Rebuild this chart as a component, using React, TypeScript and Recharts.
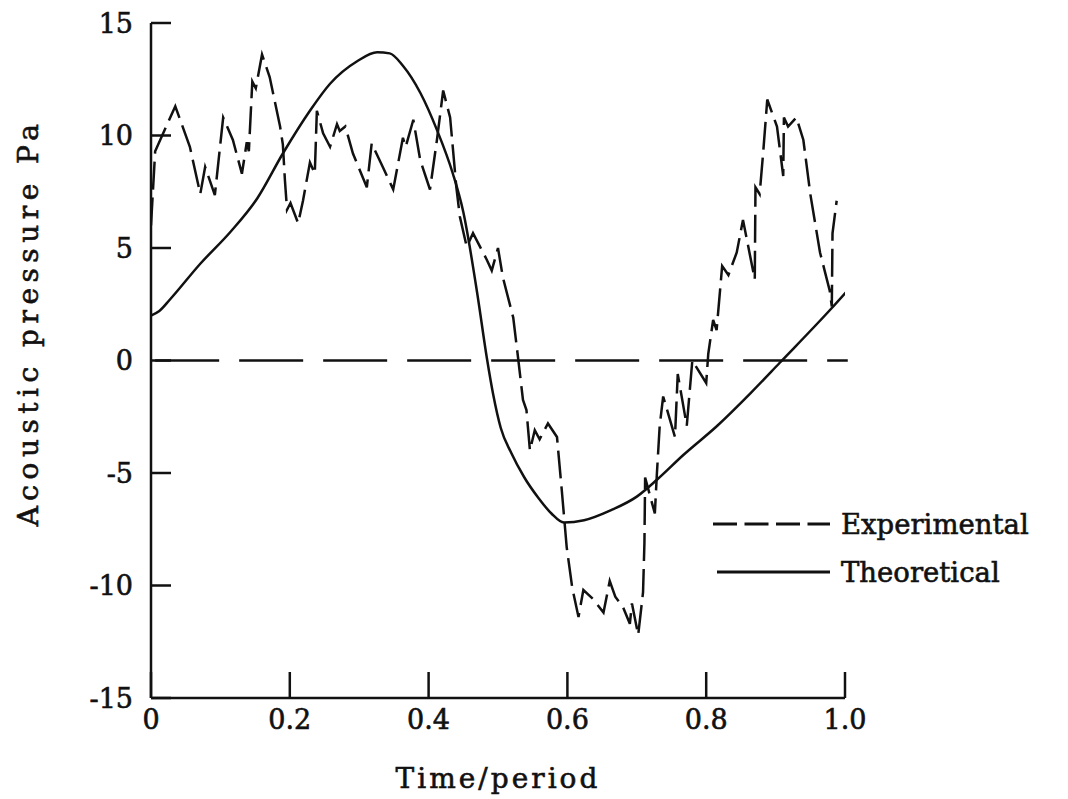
import React from 'react';
import { LineChart, Line, XAxis, YAxis, ReferenceLine, Legend } from 'recharts';

const FONT = '"DejaVu Serif", "Liberation Serif", serif';
const INK = '#111';

const xTicks = [0, 0.2, 0.4, 0.6, 0.8, 1.0];
const yTicks = [-15, -10, -5, 0, 5, 10, 15];

// theoretical curve (solid)
const theoTime = [
  0, 0.012, 0.027, 0.071, 0.114, 0.153, 0.19, 0.229, 0.258, 0.297, 0.326, 0.344, 0.363, 0.388,
  0.412, 0.435, 0.45, 0.47, 0.484, 0.493, 0.504, 0.519, 0.538, 0.558, 0.577, 0.595, 0.624,
  0.663, 0.7, 0.729, 0.767, 0.816, 0.864, 0.906, 0.98, 1.012,
];
const theoPressure = [
  2.0, 2.2, 2.7, 4.3, 5.7, 7.2, 9.2, 11.1, 12.3, 13.3, 13.7, 13.65, 13.1, 11.9,
  10.25, 8.3, 6.6, 3.0, 0.1, -1.5, -3.0, -4.1, -5.2, -6.1, -6.8, -7.2, -7.1,
  -6.65, -6.05, -5.3, -4.2, -2.9, -1.45, -0.1, 2.3, 3.4,
];

// experimental curve (dashed)
const expTime = [
  0, 0.006, 0.035, 0.056, 0.071, 0.078, 0.092, 0.104, 0.118, 0.131, 0.138, 0.141, 0.146, 0.151,
  0.16, 0.171, 0.186, 0.19, 0.193, 0.196, 0.201, 0.212, 0.219, 0.229, 0.236, 0.239, 0.248, 0.258,
  0.268, 0.272, 0.28, 0.291, 0.311, 0.318, 0.334, 0.349, 0.363, 0.367, 0.378, 0.388, 0.402, 0.412,
  0.421, 0.431, 0.44, 0.445, 0.455, 0.464, 0.484, 0.491, 0.5, 0.507, 0.522, 0.529, 0.536, 0.541,
  0.546, 0.553, 0.56, 0.572, 0.585, 0.592, 0.599, 0.607, 0.616, 0.623, 0.637, 0.652, 0.661, 0.669,
  0.68, 0.69, 0.693, 0.702, 0.709, 0.711, 0.712, 0.726, 0.729, 0.733, 0.738, 0.755, 0.759, 0.772,
  0.78, 0.8, 0.803, 0.81, 0.815, 0.823, 0.832, 0.844, 0.853, 0.87, 0.871, 0.877, 0.882, 0.888,
  0.902, 0.911, 0.912, 0.918, 0.93, 0.94, 0.95, 0.964, 0.978, 0.981, 0.982, 0.988,
];
const expPressure = [
  6.0, 9.3, 11.3, 9.5, 7.4, 8.6, 7.35, 10.8, 9.8, 8.3, 9.7, 9.3, 12.4, 12.1,
  13.6, 12.6, 10.4, 9.6, 8.0, 6.7, 7.0, 6.1, 7.1, 8.8, 8.3, 11.1, 10.1, 9.5,
  10.5, 10.2, 10.4, 9.2, 7.7, 9.65, 8.6, 7.6, 9.9, 9.5, 10.7, 8.9, 7.6, 9.8,
  12.0, 10.8, 7.7, 6.4, 5.05, 5.66, 4.47, 4.0, 5.0, 3.7, 1.9, 0.1, -1.75, -2.2,
  -4.0, -3.1, -3.5, -2.8, -3.4, -5.8, -8.3, -10.1, -11.4, -10.2, -10.6, -11.2, -9.8, -10.5,
  -10.95, -11.7, -10.8, -12.2, -10.3, -8.1, -5.2, -6.8, -5.0, -2.9, -1.6, -3.4, -0.6, -2.9,
  0.0, -1.0, 0.3, 1.8, 1.35, 4.2, 3.8, 4.8, 6.25, 3.6, 7.7, 7.4, 9.2, 11.6,
  10.4, 8.2, 10.8, 10.4, 10.8, 9.8, 7.4, 4.8, 3.1, 2.4, 5.65, 7.1,
];

const theoData = theoTime.map((t, i) => ({ t, p: theoPressure[i] }));
const expData = expTime.map((t, i) => ({ t, p: expPressure[i] }));

const fmtX = (v: number) => (v === 0 ? '0' : v.toFixed(1));

const tickStyle = { fill: INK, fontSize: 27, fontFamily: FONT, stroke: INK, strokeWidth: 0.6 };

function YLabel({ viewBox }: any) {
  const cx = viewBox.x + 28;
  const cy = viewBox.y + viewBox.height / 2 - 38;
  return (
    <text
      x={cx}
      y={cy}
      transform={`rotate(-90 ${cx} ${cy})`}
      textAnchor="middle"
      dominantBaseline="central"
      fontFamily={FONT}
      fontSize={28}
      letterSpacing={5.5}
      fill={INK}
      stroke={INK}
      strokeWidth={0.6}
    >
      Acoustic pressure Pa
    </text>
  );
}

function LegendBox() {
  const row = { display: 'flex', alignItems: 'center', height: 48 } as const;
  const txt = { marginLeft: 8, lineHeight: '48px', WebkitTextStroke: '0.6px #111' } as const;
  return (
    <div style={{ fontFamily: FONT, fontSize: 27.5, color: INK }}>
      <div style={row}>
        <svg width={122} height={48}>
          <line x1={2} y1={24} x2={119} y2={24} stroke={INK} strokeWidth={3} strokeDasharray="24 7.5" />
        </svg>
        <span style={txt}>Experimental</span>
      </div>
      <div style={row}>
        <svg width={122} height={48}>
          <line x1={6} y1={24} x2={119} y2={24} stroke={INK} strokeWidth={3} />
        </svg>
        <span style={txt}>Theoretical</span>
      </div>
    </div>
  );
}

export default function App() {
  return (
    <div style={{ position: 'absolute', left: 0, top: 0, background: '#fff' }}>
      <LineChart width={1068} height={799} margin={{ top: 23, right: 223, bottom: 0, left: 0 }}>
        <XAxis
          type="number"
          dataKey="t"
          domain={[0, 1]}
          ticks={xTicks}
          tickFormatter={fmtX}
          allowDataOverflow
          height={101}
          stroke={INK}
          strokeWidth={2.5}
          tickSize={-26}
          tickMargin={38}
          tick={tickStyle}
          label={{
            value: 'Time/period',
            position: 'insideBottom',
            offset: 11,
            style: { fill: INK, fontSize: 28, fontFamily: FONT, letterSpacing: 3, stroke: INK, strokeWidth: 0.6 },
          }}
        />
        <YAxis
          type="number"
          domain={[-15, 15]}
          ticks={yTicks}
          width={151}
          stroke={INK}
          strokeWidth={2.5}
          tickSize={-20}
          tickMargin={38}
          tick={tickStyle}
          label={{ content: (p: any) => <YLabel {...p} /> }}
        />
        <ReferenceLine
          segment={[{ x: 0.006, y: 0 }, { x: 1.004, y: 0 }]}
          ifOverflow="visible"
          stroke={INK}
          strokeWidth={2.5}
          strokeDasharray="64 20"
        />
        <Line
          data={theoData}
          dataKey="p"
          type="monotone"
          stroke={INK}
          strokeWidth={2.5}
          dot={false}
          isAnimationActive={false}
        />
        <Line
          data={expData}
          dataKey="p"
          type="linear"
          stroke={INK}
          strokeWidth={2.5}
          strokeDasharray="28 8"
          dot={false}
          isAnimationActive={false}
        />
        <Legend
          layout="vertical"
          align="center"
          verticalAlign="middle"
          content={() => <LegendBox />}
          wrapperStyle={{ left: 711, top: 500, width: 357 }}
        />
      </LineChart>
    </div>
  );
}
